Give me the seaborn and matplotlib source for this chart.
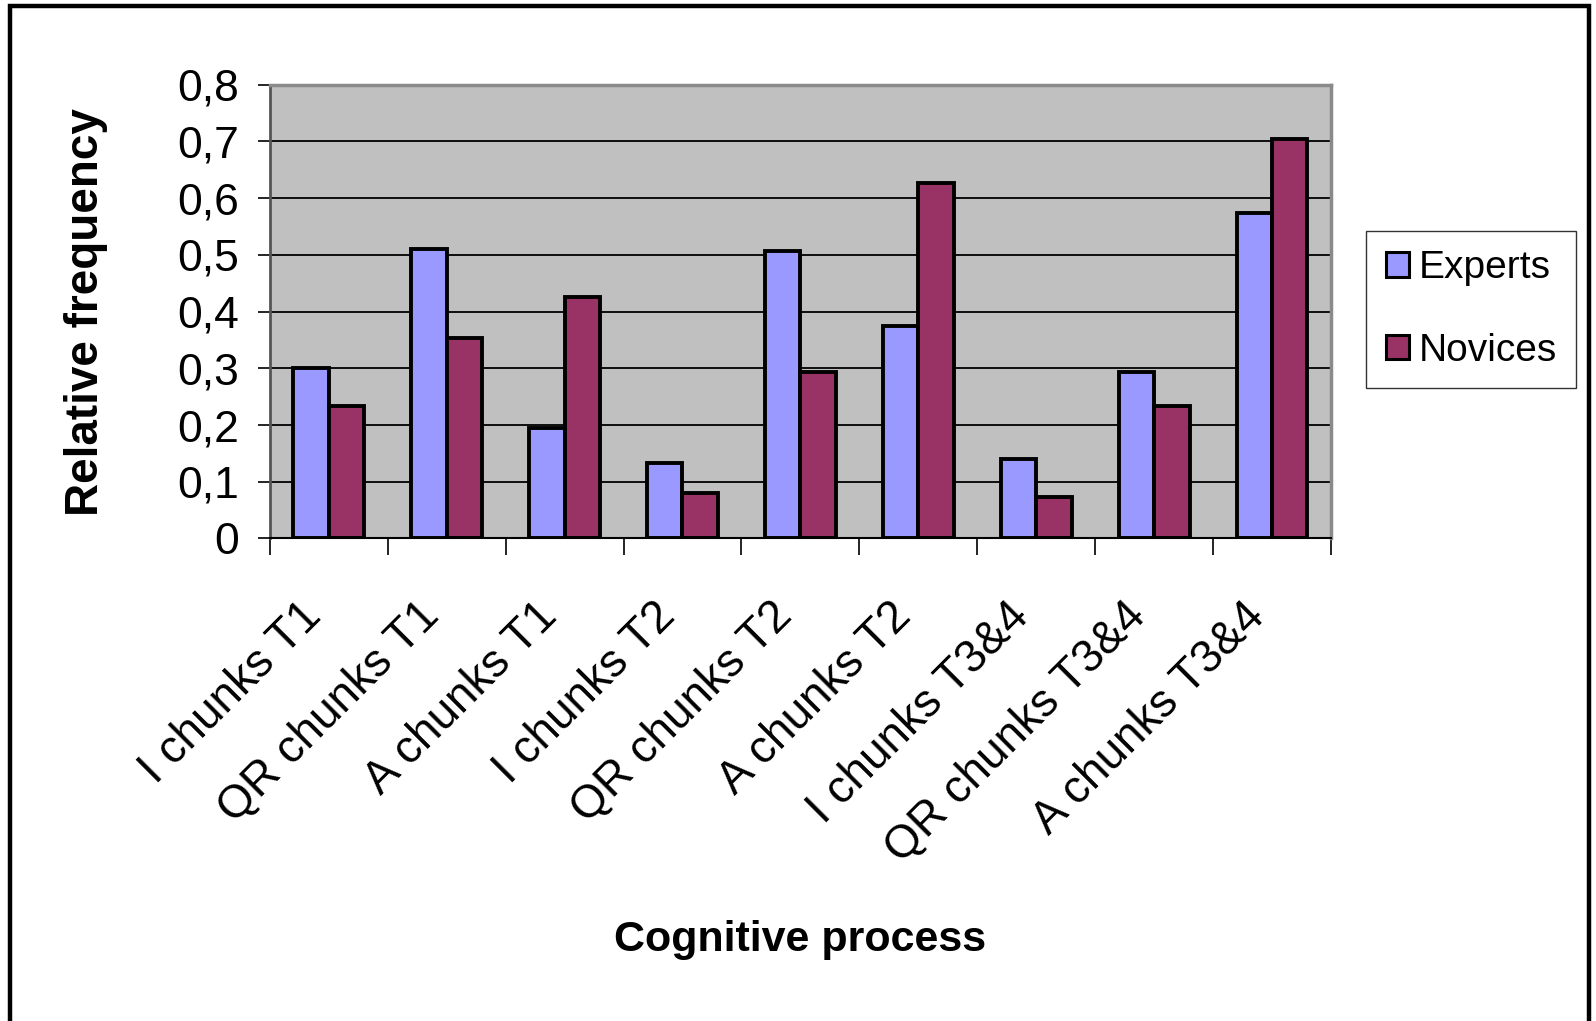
import matplotlib
matplotlib.use("Agg")
import matplotlib.pyplot as plt
import matplotlib.transforms as mtransforms
import seaborn as sns
import pandas as pd
from matplotlib.patches import Rectangle
from matplotlib.ticker import FixedLocator, FuncFormatter

categories = ["I chunks T1", "QR chunks T1", "A chunks T1",
              "I chunks T2", "QR chunks T2", "A chunks T2",
              "I chunks T3&4", "QR chunks T3&4", "A chunks T3&4"]
experts = [0.300, 0.511, 0.194, 0.133, 0.507, 0.374, 0.141, 0.293, 0.573]
novices = [0.233, 0.354, 0.426, 0.080, 0.293, 0.626, 0.074, 0.233, 0.705]
series = ["Experts", "Novices"]
yticks = [0, 0.1, 0.2, 0.3, 0.4, 0.5, 0.6, 0.7, 0.8]

df = pd.DataFrame({
    "category": categories * 2,
    "value": experts + novices,
    "group": [series[0]] * len(categories) + [series[1]] * len(categories),
})

sns.set_theme(style="white")
plt.rcParams["font.family"] = ["Liberation Sans", "DejaVu Sans"]
plt.rcParams["text.color"] = "black"
plt.rcParams["axes.labelcolor"] = "black"
plt.rcParams["xtick.color"] = "black"
plt.rcParams["ytick.color"] = "black"

fig = plt.figure(figsize=(15.96, 10.21), dpi=100)
ax = fig.add_axes([0.169, 0.4726, 0.665, 0.4444])

palette = {"Experts": "#9999FF", "Novices": "#993366"}
sns.barplot(data=df, x="category", y="value", hue="group", order=categories,
            hue_order=series, palette=palette, width=0.6, ax=ax,
            edgecolor="black", linewidth=2.8, saturation=1, legend=True)

ax.set_facecolor("#C0C0C0")
ax.set_xlim(-0.5, len(categories) - 0.5)
ax.set_ylim(0, 0.8)
ax.yaxis.set_major_locator(FixedLocator(yticks))
ax.yaxis.set_major_formatter(FuncFormatter(lambda v, p: ("%g" % round(v, 1)).replace(".", ",")))
ax.grid(axis="y", color="black", linewidth=1.3)
ax.set_axisbelow(True)

for side in ["top", "right"]:
    ax.spines[side].set_color("#8a8a8a")
    ax.spines[side].set_linewidth(2.5)
ax.spines["left"].set_color("#555555")
ax.spines["left"].set_linewidth(2)
ax.spines["bottom"].set_color("black")
ax.spines["bottom"].set_linewidth(1.5)

ax.tick_params(axis="y", direction="out", length=9, width=1.2, color="black",
               labelsize=32, pad=13, left=True, labelcolor="black")
ax.set_xticks(range(len(categories)))
ax.set_xticklabels(categories, rotation=45, ha="right", va="top",
                   rotation_mode="anchor", fontsize=33, color="black")
ax.tick_params(axis="x", which="major", length=0, pad=40)
shift = mtransforms.ScaledTranslation(-30 / 100, 0, fig.dpi_scale_trans)
for lab in ax.get_xticklabels():
    lab.set_transform(lab.get_transform() + shift)
ax.set_xticks([i - 0.5 for i in range(len(categories) + 1)], minor=True)
ax.tick_params(axis="x", which="minor", direction="out", length=12, width=1.2,
               color="black", bottom=True)

ax.set_xlabel("Cognitive process", fontsize=31, fontweight="bold", labelpad=0,
              color="black")
ax.xaxis.set_label_coords(0.5, -0.84)
ax.set_ylabel("Relative frequency", fontsize=33, fontweight="bold", color="black")
ax.yaxis.set_label_coords(-0.152, 0.5)

leg = ax.legend(loc="center left", bbox_to_anchor=(1.033, 0.505),
                fontsize=28, frameon=True, fancybox=False, edgecolor="black",
                handlelength=0.6, handleheight=0.6, handletextpad=0.25,
                borderpad=0.5, labelspacing=1.2, borderaxespad=0)
leg.get_frame().set_linewidth(1.0)
for h in leg.legend_handles:
    h.set_edgecolor("black")
    h.set_linewidth(2.2)
for t in leg.get_texts():
    t.set_color("black")

fig.patches.append(Rectangle((0.0063, -0.05), 0.9895, 1.044,
                             transform=fig.transFigure, fill=False,
                             edgecolor="black", linewidth=3.2))

fig.savefig("out.png", dpi=100)
